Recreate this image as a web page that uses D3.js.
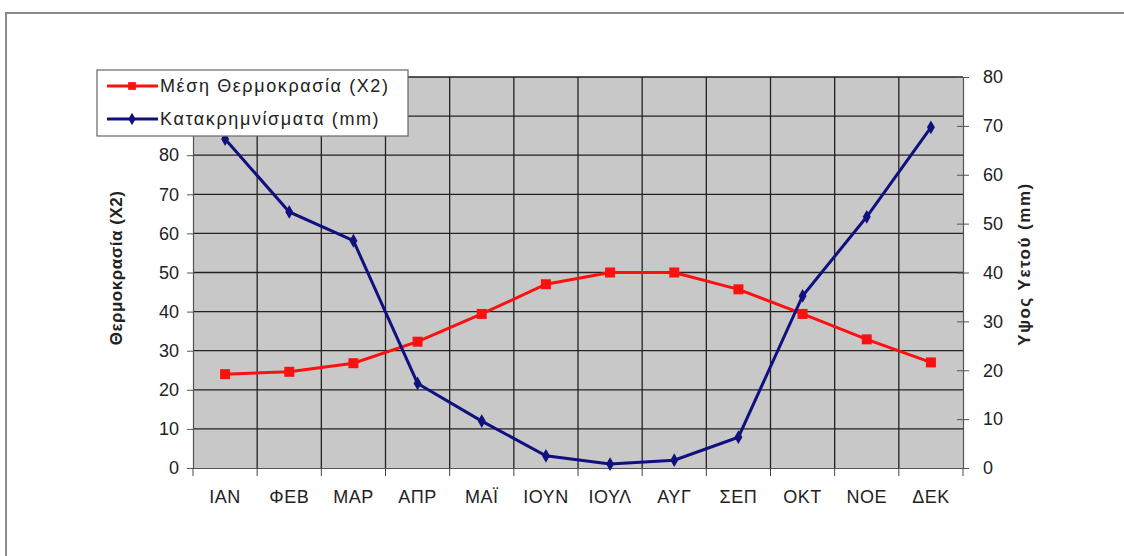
<!DOCTYPE html>
<html>
<head>
<meta charset="utf-8">
<script src="https://cdn.jsdelivr.net/npm/d3@7"></script>
<style>
body { margin: 0; background: #fff; }
svg { display: block; font-family: "Liberation Sans", Arial, sans-serif; }
</style>
</head>
<body>
<svg id="chart"></svg>
<script>
var width = 1124;
var height = 556;

var months = ["ΙΑΝ", "ΦΕΒ", "ΜΑΡ", "ΑΠΡ", "ΜΑΪ", "ΙΟΥΝ", "ΙΟΥΛ", "ΑΥΓ", "ΣΕΠ", "ΟΚΤ", "ΝΟΕ", "ΔΕΚ"];
var temperature = [24.0, 24.6, 26.8, 32.3, 39.4, 47.0, 50.0, 50.0, 45.7, 39.4, 32.9, 27.0];
var rainfall = [67.3, 52.4, 46.5, 17.3, 9.6, 2.5, 0.8, 1.6, 6.3, 35.2, 51.4, 69.7];
var leftTicks = [0, 10, 20, 30, 40, 50, 60, 70, 80, 90, 100];
var rightTicks = [0, 10, 20, 30, 40, 50, 60, 70, 80];

var plotLeft = 193, plotRight = 963, plotTop = 77, plotBottom = 468;

var svg = d3.select("#chart")
.attr("width", width)
.attr("height", height);

// outer frame (only top and left edges visible)
svg.append("path")
.attr("d", "M6," + height + "V13H" + width)
.attr("fill", "none")
.attr("stroke", "#8a8a8a")
.attr("stroke-width", 2);

var x = d3.scaleBand()
.domain(months)
.range([plotLeft, plotRight]);

var yLeft = d3.scaleLinear()
.domain([0, 100])
.range([plotBottom, plotTop]);

var yRight = d3.scaleLinear()
.domain([0, 80])
.range([plotBottom, plotTop]);

svg.append("rect")
.attr("x", plotLeft)
.attr("y", plotTop)
.attr("width", plotRight - plotLeft)
.attr("height", plotBottom - plotTop)
.attr("fill", "#c8c8c8");

// horizontal grid
svg.append("g")
.selectAll("line")
.data(leftTicks.slice(1))
.enter()
.append("line")
.attr("x1", plotLeft)
.attr("x2", plotRight)
.attr("y1", function (d) { return yLeft(d); })
.attr("y2", function (d) { return yLeft(d); })
.attr("stroke", "#222")
.attr("stroke-width", 1.3);

// vertical grid
svg.append("g")
.selectAll("line")
.data(months.slice(1))
.enter()
.append("line")
.attr("x1", function (d) { return x(d); })
.attr("x2", function (d) { return x(d); })
.attr("y1", plotTop)
.attr("y2", plotBottom)
.attr("stroke", "#222")
.attr("stroke-width", 1.3);

// left axis (90 and 100 sit under the legend, so their labels are left blank)
var leftAxis = svg.append("g")
.attr("transform", "translate(" + plotLeft + ",0)")
.call(d3.axisLeft(yLeft).tickValues(leftTicks).tickSize(6).tickPadding(8)
	.tickFormat(function (d) { return d >= 90 ? "" : d; }));

// right axis
var rightAxis = svg.append("g")
.attr("transform", "translate(" + plotRight + ",0)")
.call(d3.axisRight(yRight).tickValues(rightTicks).tickSize(6).tickPadding(14));
rightAxis.selectAll(".tick line").attr("x1", -6);

// bottom axis
var bottomAxis = svg.append("g")
.attr("transform", "translate(0," + plotBottom + ")")
.call(d3.axisBottom(x).tickSize(0).tickPadding(22));

bottomAxis.selectAll(".boundary")
.data(months.concat(["end"]))
.enter()
.append("line")
.attr("x1", function (d, i) { return plotLeft + i * x.bandwidth(); })
.attr("x2", function (d, i) { return plotLeft + i * x.bandwidth(); })
.attr("y1", 0)
.attr("y2", 8)
.attr("stroke", "#444");

[leftAxis, rightAxis, bottomAxis].forEach(function (a) {
	a.select(".domain").attr("stroke", "#555").attr("stroke-width", 1.2);
	a.selectAll(".tick line").attr("stroke", "#555");
	a.selectAll("text").attr("fill", "#222").style("font-size", "18px");
});
bottomAxis.selectAll("text").style("letter-spacing", "0.5px");

// axis titles
svg.append("text")
.attr("transform", "translate(122,268) rotate(-90)")
.attr("text-anchor", "middle")
.style("font-size", "17px")
.style("font-weight", "bold")
.style("letter-spacing", "0.5px")
.attr("fill", "#222")
.text("Θερμοκρασία  (X2)");

svg.append("text")
.attr("transform", "translate(1030,264) rotate(-90)")
.attr("text-anchor", "middle")
.style("font-size", "17px")
.style("font-weight", "bold")
.style("letter-spacing", "1.5px")
.attr("fill", "#222")
.text("Υψος Υετού (mm)");

function cx(d, i) { return x(months[i]) + x.bandwidth() / 2; }

// temperature series
svg.append("path")
.datum(temperature)
.attr("fill", "none")
.attr("stroke", "#ff1010")
.attr("stroke-width", 3)
.attr("d", d3.line().x(cx).y(function (d) { return yLeft(d); }));

svg.append("g")
.selectAll("rect")
.data(temperature)
.enter()
.append("rect")
.attr("x", function (d, i) { return cx(d, i) - 5; })
.attr("y", function (d) { return yLeft(d) - 5; })
.attr("width", 10)
.attr("height", 10)
.attr("fill", "#ff1010");

// rainfall series
svg.append("path")
.datum(rainfall)
.attr("fill", "none")
.attr("stroke", "#10107e")
.attr("stroke-width", 3)
.attr("d", d3.line().x(cx).y(function (d) { return yRight(d); }));

svg.append("g")
.selectAll("path")
.data(rainfall)
.enter()
.append("path")
.attr("transform", function (d, i) { return "translate(" + cx(d, i) + "," + yRight(d) + ")"; })
.attr("d", d3.symbol().type(d3.symbolDiamond).size(55))
.attr("fill", "#10107e");

// legend
var legend = svg.append("g");

legend.append("rect")
.attr("x", 97)
.attr("y", 70)
.attr("width", 311)
.attr("height", 66)
.attr("fill", "#fff")
.attr("stroke", "#666")
.attr("stroke-width", 1.2);

var legendItems = [
	{label: "Μέση Θερμοκρασία (X2)", color: "#ff1010", y: 86, shape: "square"},
	{label: "Κατακρημνίσματα (mm)", color: "#10107e", y: 119, shape: "diamond"}
];

legendItems.forEach(function (item) {
	legend.append("line")
	.attr("x1", 107)
	.attr("x2", 158)
	.attr("y1", item.y)
	.attr("y2", item.y)
	.attr("stroke", item.color)
	.attr("stroke-width", 3);

	legend.append("path")
	.attr("transform", "translate(132," + item.y + ")")
	.attr("d", d3.symbol().type(item.shape == "square" ? d3.symbolSquare : d3.symbolDiamond).size(item.shape == "square" ? 60 : 45))
	.attr("fill", item.color);

	legend.append("text")
	.attr("x", 160)
	.attr("y", item.y)
	.attr("dy", "0.35em")
	.style("font-size", "18px")
	.style("letter-spacing", "1.6px")
	.attr("fill", "#222")
	.text(item.label);
});
</script>
</body>
</html>
